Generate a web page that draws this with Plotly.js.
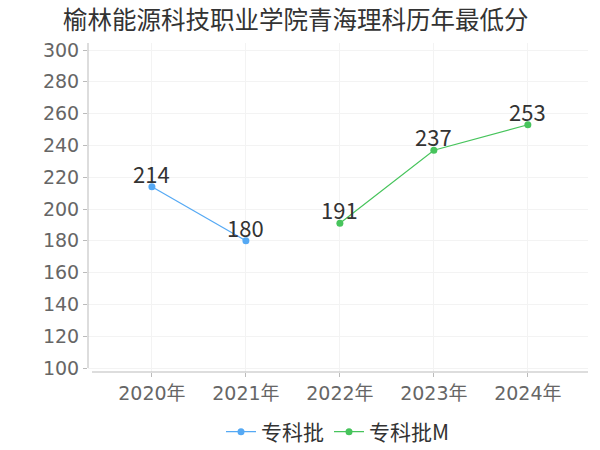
<!DOCTYPE html>
<html>
<head>
<meta charset="utf-8">
<script src="https://cdn.plot.ly/plotly-3.0.1.min.js"></script>
<style>html,body{margin:0;padding:0;background:#fff;}#chart{width:600px;height:450px;}</style>
</head>
<body>
<div id="chart"></div>
<script>
const categories = ['2020年', '2021年', '2022年', '2023年', '2024年'];
const seriesAName = '专科批';
const seriesAX = ['2020年', '2021年'];
const seriesAY = [214, 180];
const seriesBName = '专科批M';
const seriesBX = ['2022年', '2023年', '2024年'];
const seriesBY = [191, 237, 253];
const yTicks = [100, 120, 140, 160, 180, 200, 220, 240, 260, 280, 300];
const titleText = '榆林能源科技职业学院青海理科历年最低分';

const FONT = 'DejaVu Sans, "Noto Sans CJK SC", sans-serif';
const CJK = '"Noto Sans CJK SC", sans-serif';
const blue = '#55a9f4';
const green = '#47c45c';

const traces = [
  {
    x: seriesAX, y: seriesAY, name: seriesAName, type: 'scatter', mode: 'lines+markers',
    line: {color: blue, width: 1.2}, marker: {color: blue, size: 7}, cliponaxis: false
  },
  {
    x: seriesBX, y: seriesBY, name: seriesBName, type: 'scatter', mode: 'lines+markers',
    line: {color: green, width: 1.2}, marker: {color: green, size: 7}, cliponaxis: false
  }
];

function labels(xs, ys) {
  return xs.map((x, i) => ({
    x: x, y: ys[i], xref: 'x', yref: 'y', text: String(ys[i]), showarrow: false,
    xanchor: 'center', yanchor: 'bottom', yshift: -4,
    font: {family: CJK, size: 22, color: '#333'}
  }));
}

const layout = {
  width: 600, height: 450,
  margin: {l: 88, r: 12, t: 43, b: 78},
  paper_bgcolor: '#fff', plot_bgcolor: '#fff',
  font: {family: FONT, color: '#666'},
  title: {text: titleText, x: 0.493, xanchor: 'center', y: 0.955, yanchor: 'middle',
          font: {family: CJK, size: 24.5, color: '#333'}},
  xaxis: {
    type: 'category', categoryorder: 'array', categoryarray: categories,
    range: [-0.68, 4.64], showgrid: true, gridcolor: '#f3f3f3', gridwidth: 1,
    showline: false, zeroline: false, automargin: false,
    ticks: 'outside', ticklen: 4, tickcolor: '#bbb', ticklabelstandoff: 0,
    tickfont: {family: FONT, size: 19, color: '#666'}, fixedrange: true
  },
  yaxis: {
    range: [97.5, 304.4], tickvals: yTicks, showgrid: true, gridcolor: '#f3f3f3', gridwidth: 1,
    showline: false, zeroline: false, automargin: false,
    ticks: 'outside', ticklen: 4, tickcolor: '#bbb',
    tickfont: {family: FONT, size: 19, color: '#666'}, fixedrange: true
  },
  shapes: [
    {type: 'line', xref: 'paper', yref: 'y', x0: 0, x1: 0, y0: 100, y1: 304.4,
     line: {color: '#bbb', width: 1}},
    {type: 'line', xref: 'paper', yref: 'paper', x0: 0.008, x1: 1, y0: 0, y1: 0,
     line: {color: '#bbb', width: 1}}
  ],
  annotations: labels(seriesAX, seriesAY).concat(labels(seriesBX, seriesBY)),
  showlegend: true,
  legend: {orientation: 'h', x: 0.5, xanchor: 'center', yref: 'container', y: 0.04, yanchor: 'middle',
           font: {family: CJK, size: 21, color: '#333'}, itemwidth: 30}
};

Plotly.newPlot('chart', traces, layout, {displayModeBar: false, staticPlot: true});
</script>
</body>
</html>
